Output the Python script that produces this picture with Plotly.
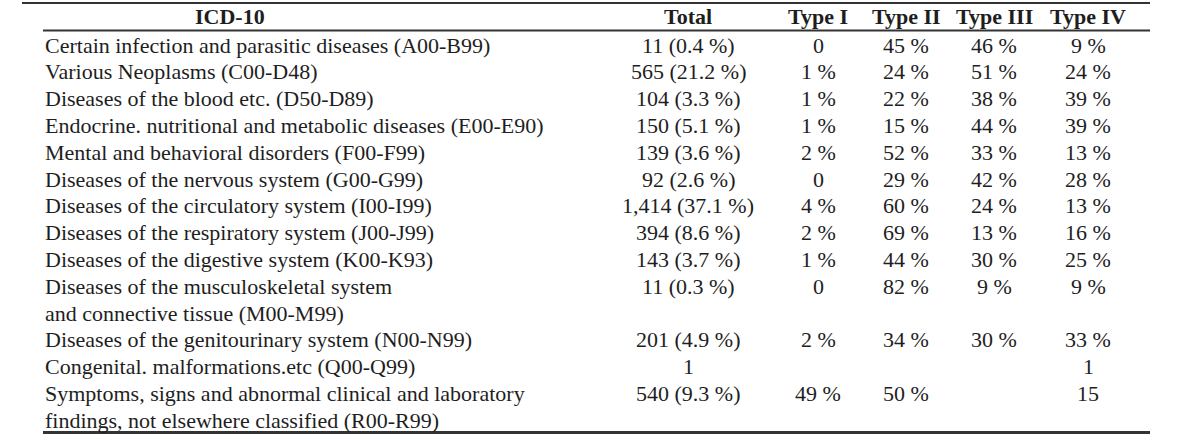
import plotly.graph_objects as go

# ---- data ----
headers = ["ICD-10", "Total", "Type I", "Type II", "Type III", "Type IV"]
icd_labels = [
    "Certain infection and parasitic diseases (A00-B99)",
    "Various Neoplasms (C00-D48)",
    "Diseases of the blood etc. (D50-D89)",
    "Endocrine. nutritional and metabolic diseases (E00-E90)",
    "Mental and behavioral disorders (F00-F99)",
    "Diseases of the nervous system (G00-G99)",
    "Diseases of the circulatory system (I00-I99)",
    "Diseases of the respiratory system (J00-J99)",
    "Diseases of the digestive system (K00-K93)",
    "Diseases of the musculoskeletal system\nand connective tissue (M00-M99)",
    "Diseases of the genitourinary system (N00-N99)",
    "Congenital. malformations.etc (Q00-Q99)",
    "Symptoms, signs and abnormal clinical and laboratory\nfindings, not elsewhere classified (R00-R99)",
]
totals = ["11 (0.4 %)", "565 (21.2 %)", "104 (3.3 %)", "150 (5.1 %)", "139 (3.6 %)",
          "92 (2.6 %)", "1,414 (37.1 %)", "394 (8.6 %)", "143 (3.7 %)", "11 (0.3 %)",
          "201 (4.9 %)", "1", "540 (9.3 %)"]
type1 = ["0", "1 %", "1 %", "1 %", "2 %", "0", "4 %", "2 %", "1 %", "0", "2 %", "", "49 %"]
type2 = ["45 %", "24 %", "22 %", "15 %", "52 %", "29 %", "60 %", "69 %", "44 %", "82 %", "34 %", "", "50 %"]
type3 = ["46 %", "51 %", "38 %", "44 %", "33 %", "42 %", "24 %", "13 %", "30 %", "9 %", "30 %", "", ""]
type4 = ["9 %", "24 %", "39 %", "39 %", "13 %", "28 %", "13 %", "16 %", "25 %", "9 %", "33 %", "1", "15"]

# ---- layout constants ----
W, H = 1200, 437
FONT = "Liberation Serif, Times New Roman, serif"
FS = 22
TXT = "#1e1e1e"
LINE = "#333333"
left_x = 43
col_centers = [230, 688, 818, 906, 994, 1088]
header_y = 16
first_y = 45
step = 26.8

fig = go.Figure()
annotations = []

# headers
for i, h in enumerate(headers):
    annotations.append(dict(x=col_centers[i], y=header_y, xref="x", yref="y", text="<b>%s</b>" % h,
                             showarrow=False, xanchor="center", yanchor="middle",
                             font=dict(family=FONT, size=FS, color=TXT)))

line_idx = 0
value_cols = [totals, type1, type2, type3, type4]
for r, label in enumerate(icd_labels):
    parts = label.split("\n")
    y0 = first_y + line_idx * step
    for k, p in enumerate(parts):
        annotations.append(dict(x=left_x, y=first_y + (line_idx + k) * step, xref="x", yref="y",
                                text=p, showarrow=False, xanchor="left", yanchor="middle",
                                font=dict(family=FONT, size=FS, color=TXT)))
    for c, col in enumerate(value_cols):
        if col[r]:
            annotations.append(dict(x=col_centers[c + 1], y=y0, xref="x", yref="y", text=col[r],
                                    showarrow=False, xanchor="center", yanchor="middle",
                                    font=dict(family=FONT, size=FS, color=TXT)))
    line_idx += len(parts)

shapes = [
    dict(type="line", xref="x", yref="y", x0=22, x1=1150, y0=3, y1=3, line=dict(color=LINE, width=2)),
    dict(type="line", xref="x", yref="y", x0=43, x1=1150, y0=30.5, y1=30.5, line=dict(color=LINE, width=2)),
    dict(type="line", xref="x", yref="y", x0=43, x1=1150, y0=432.5, y1=432.5, line=dict(color=LINE, width=3)),
]

fig.add_trace(go.Scatter(x=[0, W], y=[0, H], mode="markers", marker=dict(opacity=0), hoverinfo="skip",
                         showlegend=False))
fig.update_layout(
    width=W, height=H, margin=dict(l=0, r=0, t=0, b=0),
    paper_bgcolor="white", plot_bgcolor="white",
    xaxis=dict(range=[0, W], visible=False, fixedrange=True),
    yaxis=dict(range=[H, 0], visible=False, fixedrange=True),
    annotations=annotations, shapes=shapes, showlegend=False,
)
fig.write_html("out.html", config={"displayModeBar": False},
               post_script="document.body.style.margin='0';document.body.style.overflow='hidden';")
